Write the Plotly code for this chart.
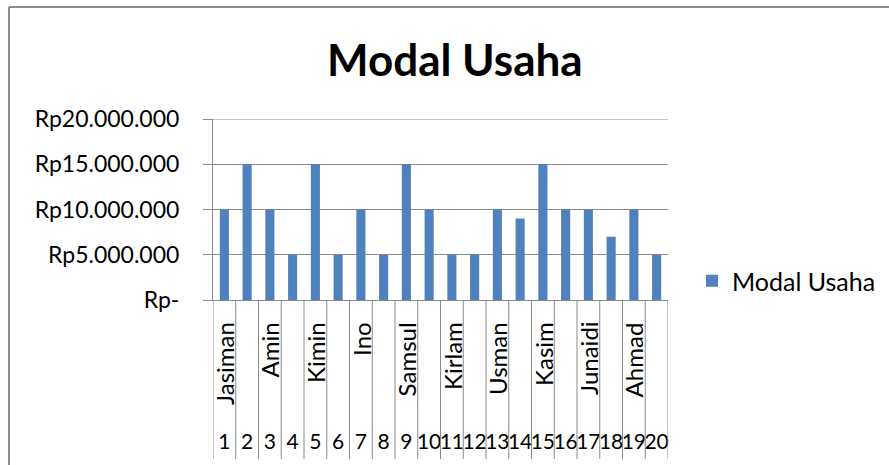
import plotly.graph_objects as go

# ---- data ----
numbers = [str(i) for i in range(1, 21)]
names = ["Jasiman", "", "Amin", "", "Kimin", "", "Ino", "", "Samsul", "",
         "Kirlam", "", "Usman", "", "Kasim", "", "Junaidi", "", "Ahmad", ""]
modal_usaha = [10000000, 15000000, 10000000, 5000000, 15000000, 5000000,
               10000000, 5000000, 15000000, 10000000, 5000000, 5000000,
               10000000, 9000000, 15000000, 10000000, 10000000, 7000000,
               10000000, 5000000]
y_tickvals = [0, 5000000, 10000000, 15000000, 20000000]
y_ticktext = ["Rp-", "Rp5.000.000", "Rp10.000.000", "Rp15.000.000", "Rp20.000.000"]
series_name = "Modal Usaha"
title_text = "Modal Usaha"

# ---- layout geometry (pixels) ----
W, H = 889, 465
ML, MR, MT, MB = 213, 221, 119, 165
pw, ph = W - ML - MR, H - MT - MB

def px_x(p):
    return (p - ML) / pw

def px_y(p):
    return (H - MB - p) / ph

FONT = "Lato"
GRID = "#8a8a8a"
BAR = "#4F81BD"

xs = list(range(1, len(modal_usaha) + 1))

fig = go.Figure()
fig.add_trace(go.Bar(x=xs, y=modal_usaha, name=series_name,
                     marker=dict(color=BAR, line=dict(width=0)),
                     showlegend=True))

shapes = []
# top gridline (at range edge)
shapes.append(dict(type="line", xref="paper", yref="y", layer="below",
                   x0=0, x1=1, y0=y_tickvals[-1], y1=y_tickvals[-1],
                   line=dict(color=GRID, width=1)))
# category dividers (multi-level axis)
for i in range(len(xs) + 1):
    shapes.append(dict(type="line", xref="x", yref="paper",
                       x0=i + 0.5, x1=i + 0.5, y0=0, y1=px_y(459),
                       line=dict(color=GRID, width=1)))
# chart-area border (top and left visible)
shapes.append(dict(type="line", xref="paper", yref="paper",
                   x0=px_x(9), x1=px_x(889), y0=px_y(7), y1=px_y(7),
                   line=dict(color="#8c8c8c", width=2)))
shapes.append(dict(type="line", xref="paper", yref="paper",
                   x0=px_x(9), x1=px_x(9), y0=px_y(7), y1=px_y(465),
                   line=dict(color="#8c8c8c", width=2)))

annotations = []
for x, n in zip(xs, names):
    if n:
        annotations.append(dict(x=x, y=px_y(320), xref="x", yref="paper",
                                text=n, textangle=-90, showarrow=False,
                                xanchor="center", yanchor="top",
                                font=dict(family=FONT, size=24, color="#000")))
annotations.append(dict(x=px_x(455), y=px_y(59), xref="paper", yref="paper",
                        text="<b>" + title_text + "</b>", showarrow=False,
                        xanchor="center", yanchor="middle",
                        font=dict(family=FONT, size=44, color="#000")))

fig.update_layout(
    width=W, height=H,
    margin=dict(l=ML, r=MR, t=MT, b=MB, pad=0, autoexpand=False),
    paper_bgcolor="white", plot_bgcolor="white",
    bargap=0.6,
    shapes=shapes, annotations=annotations,
    legend=dict(x=px_x(692), y=px_y(281), xanchor="left", yanchor="middle",
                font=dict(family=FONT, size=25, color="#000"),
                bgcolor="rgba(0,0,0,0)"),
    xaxis=dict(range=[0.5, len(xs) + 0.5], tickvals=xs, ticktext=numbers,
               showgrid=False, zeroline=False, showline=True, automargin=False,
               linecolor=GRID, linewidth=1, ticks="",
               tickangle=0, ticklabelstandoff=123,
               tickfont=dict(family=FONT, size=21, color="#000")),
    yaxis=dict(range=[0, 20000000], tickvals=y_tickvals, ticktext=y_ticktext,
               showgrid=True, gridcolor=GRID, gridwidth=1, automargin=False,
               zeroline=False, showline=True, linecolor=GRID, linewidth=1,
               ticks="outside", ticklen=9, tickcolor=GRID,
               ticklabelstandoff=19,
               tickfont=dict(family=FONT, size=23, color="#000")),
)

fig.write_html("out.html",
               config={"displayModeBar": False},
               post_script="document.body.style.margin='0';"
                           "document.body.style.overflow='hidden';")
